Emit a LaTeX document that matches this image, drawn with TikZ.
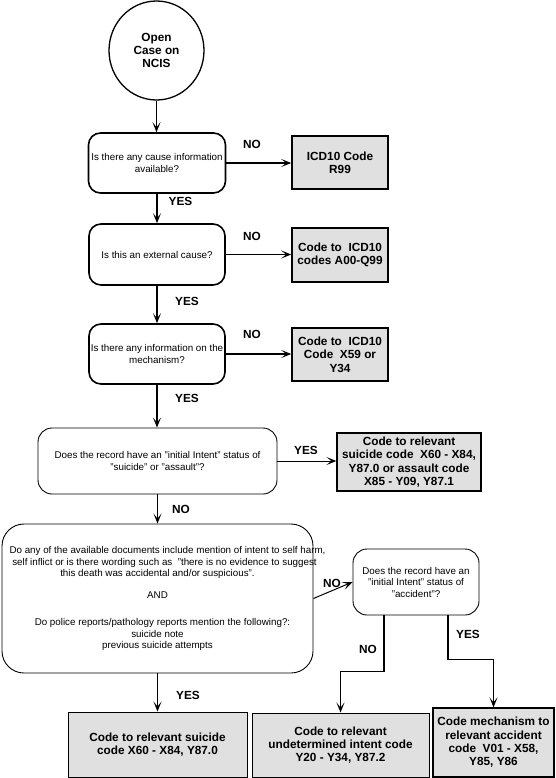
\documentclass[tikz,border=0pt]{standalone}
\usepackage{fontspec}
\setmainfont{Liberation Sans}
\usetikzlibrary{arrows.meta,shapes.geometric,calc}
\definecolor{boxgray}{RGB}{224,224,224}
\begin{document}
\begin{tikzpicture}[x=1pt,y=-1pt,
  smalltxt/.style={font=\fontsize{9.8}{11.5}\selectfont},
  boldtxt/.style={font=\fontsize{11.8}{13.3}\selectfont\bfseries},
  qthick/.style={draw, rounded corners=12pt, line width=1.6pt, inner sep=0pt, align=center, smalltxt},
  qthin/.style={draw, rounded corners=14pt, line width=0.9pt, inner sep=0pt, align=center, smalltxt},
  codebox/.style={draw, fill=boxgray, line width=1.6pt, inner sep=0pt, align=center, boldtxt},
  codethin/.style={draw, fill=boxgray, line width=1pt, inner sep=0pt, align=center, boldtxt},
  lbl/.style={boldtxt, inner sep=0pt},
  arr/.style={line width=1.6pt, -{Stealth[length=10pt,width=8pt,inset=5pt]}},
  arrthin/.style={line width=1pt, -{Stealth[length=10pt,width=8pt,inset=5pt]}},
]
\useasboundingbox (0,0) rectangle (555,778);

\node[ellipse, draw, line width=1.3pt, minimum width=95pt, minimum height=99pt, inner sep=0pt, align=center, boldtxt] (start) at (156.5,50.5) {Open\\Case on\\NCIS};
\node[qthick, minimum width=137pt, minimum height=60pt] (q1) at (157,163) {\makebox[130pt]{Is there any cause information}\\available?};
\node[codebox, minimum width=96pt, minimum height=53pt] (r99) at (340,162.5) {ICD10 Code\\R99};
\node[qthick, minimum width=136pt, minimum height=61pt] (q2) at (157,254.5) {Is this an external cause?};
\node[codebox, minimum width=96pt, minimum height=54pt] (a00) at (340,255) {Code to~ ICD10\\codes A00-Q99};
\node[qthick, minimum width=136pt, minimum height=60pt] (q3) at (157,354) {\makebox[130pt]{Is there any information on the}\\mechanism?};
\node[codebox, minimum width=96pt, minimum height=53pt] (x59) at (340,354.5) {Code to~ ICD10\\Code~ X59 or\\Y34};
\node[qthin, minimum width=239pt, minimum height=66pt] (q4) at (157.5,461) {Does the record have an "initial Intent" status of\\"suicide" or "assault"?};
\node[qthin, rounded corners=22pt, minimum width=311pt, minimum height=149pt] (q6) at (157.5,598.5) {\makebox[300pt]{\hspace*{20pt}Do any of the available documents include mention of intent to self harm,}\\\makebox[300pt]{\hspace*{14pt}self inflict or is there wording such as~ "there is no evidence to suggest}\\this death was accidental and/or suspicious".\\[10pt]AND\\[16pt]\makebox[300pt]{\hspace*{10pt}Do police reports/pathology reports mention the following?:}\\suicide note\\previous suicide attempts};
\node[codebox, line width=1.3pt, minimum width=144pt, minimum height=58pt] (s5) at (409,462) {Code to relevant\\suicide code~ X60 - X84,\\Y87.0 or assault code\\X85 - Y09, Y87.1};
\node[qthin, minimum width=126pt, minimum height=66pt] (q7) at (416,582) {Does the record have an\\"initial Intent" status of\\"accident"?};
\node[codethin, minimum width=179pt, minimum height=65pt] (b8) at (157.5,744.5) {Code to relevant suicide\\code X60 - X84, Y87.0};
\node[codethin, minimum width=177pt, minimum height=64pt] (b9) at (340.5,745) {Code to relevant\\undetermined intent code\\Y20 - Y34, Y87.2};
\node[codethin, line width=1.3pt, minimum width=121pt, minimum height=69pt] (b10) at (493.5,742.5) {Code mechanism to\\relevant accident\\code~ V01 - X58,\\Y85, Y86};

\draw[arr] (start.south) -- (start.south |- q1.north);
\draw[arr] (q1.east) -- (r99.west |- q1.east);
\draw[arr] (q1.south) -- (q1.south |- q2.north);
\draw[arr] (q2.east) -- (a00.west |- q2.east);
\draw[arr] (q2.south) -- (q2.south |- q3.north);
\draw[arr] (q3.east) -- (x59.west |- q3.east);
\draw[arr] (q3.south) -- (q3.south |- q4.north);
\draw[arrthin] (q4.east) -- (s5.west |- q4.east);
\draw[arr] (q4.south) -- (q4.south |- q6.north);
\draw[arrthin] (q6.east) -- (q7.west);
\draw[arrthin] (q6.south) -- (q6.south |- b8.north);
\draw[arr] ([xshift=-32pt]q7.south) -- ++(0,56) -| (b9.north);
\draw[arr] ([xshift=32pt]q7.south) -- ++(0,44) -| (b10.north);

\node[lbl] (n1) at (252,144) {NO};
\node[lbl] (y1) at (180.5,201) {YES};
\node[lbl] (n2) at (252,236) {NO};
\node[lbl] (y2) at (187,301) {YES};
\node[lbl] (n3) at (252,334) {NO};
\node[lbl] (y3) at (187,398) {YES};
\node[lbl] (y4) at (306,450) {YES};
\node[lbl] (n4) at (181,509) {NO};
\node[lbl] (n5) at (332,583) {NO};
\node[lbl] (y5) at (188,695) {YES};
\node[lbl] (n6) at (368,649) {NO};
\node[lbl] (y6) at (468,634) {YES};
\end{tikzpicture}
\end{document}
